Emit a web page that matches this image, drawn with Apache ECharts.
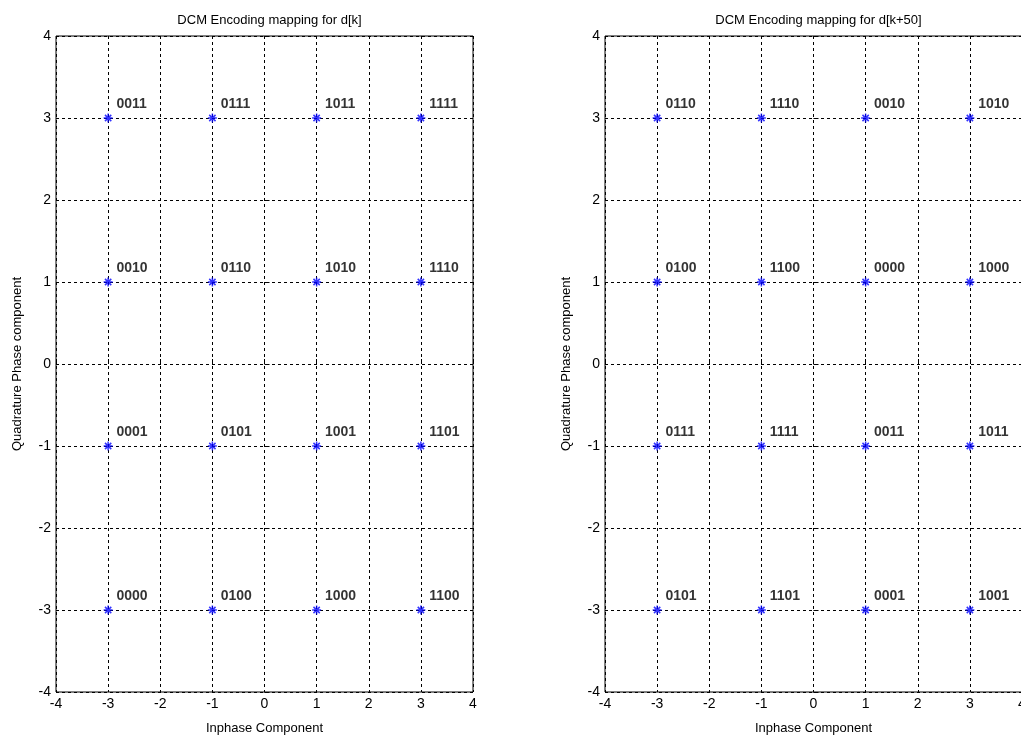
<!DOCTYPE html>
<html>
<head>
<meta charset="utf-8">
<script src="https://cdn.jsdelivr.net/npm/echarts@6/dist/echarts.min.js"></script>
<style>
  html, body { margin: 0; padding: 0; background: #fff; }
  #main { width: 1021px; height: 738px; }
</style>
</head>
<body>
<div id="main"></div>
<script>
// symbol positions (I / Q levels)
const levels = [-3, -1, 1, 3]
const ticks = [-4, -3, -2, -1, 0, 1, 2, 3, 4]
const titles = ['DCM Encoding mapping for d[k]', 'DCM Encoding mapping for d[k+50]']

// bit labels, rows from Q = 3 down to Q = -3, columns I = -3 .. 3
const codesLeft = [
  ['0011', '0111', '1011', '1111'],
  ['0010', '0110', '1010', '1110'],
  ['0001', '0101', '1001', '1101'],
  ['0000', '0100', '1000', '1100']
]
const codesRight = [
  ['0110', '1110', '0010', '1010'],
  ['0100', '1100', '0000', '1000'],
  ['0111', '1111', '0011', '1011'],
  ['0101', '1101', '0001', '1001']
]
const rowsQ = [3, 1, -1, -3]

function buildPoints(codes) {
  const pts = []
  for (let r = 0; r < rowsQ.length; r++) {
    for (let c = 0; c < levels.length; c++) {
      pts.push({ value: [levels[c], rowsQ[r]], code: codes[r][c] })
    }
  }
  return pts
}

const myChart = echarts.init(document.getElementById('main'))
const font = 'Liberation Sans, Arial, sans-serif'
const star = 'path://M0,-5L0,5M-5,0L5,0M-3.5,-3.5L3.5,3.5M-3.5,3.5L3.5,-3.5'

const grids = [
  { left: 56, width: 417, top: 36, height: 656 },
  { left: 605, width: 417, top: 36, height: 656 }
]

function axisCommon() {
  return {
    min: -4,
    max: 4,
    interval: 1,
    axisLine: { show: false },
    axisTick: { show: true, inside: true, length: 5, lineStyle: { color: '#000' } },
    axisLabel: { color: '#000', fontSize: 14, fontFamily: font, margin: 5 },
    splitLine: { show: true, lineStyle: { color: '#000', type: [3, 3], width: 1 } },
    nameTextStyle: { color: '#000', fontSize: 13, fontFamily: font }
  }
}

const option = {
  backgroundColor: '#fff',
  animation: false,
  title: titles.map((t, i) => ({
    text: t,
    left: grids[i].left + grids[i].width / 2,
    textAlign: 'center',
    top: 9,
    textStyle: { fontSize: 13, fontWeight: 'normal', color: '#000', fontFamily: font }
  })),
  grid: grids.map(g => Object.assign({ show: true, borderColor: '#000', borderWidth: 1, outerBoundsMode: 'none', containLabel: false }, g)),
  xAxis: grids.map((g, i) => Object.assign(axisCommon(), {
    type: 'value',
    gridIndex: i,
    name: 'Inphase Component',
    nameLocation: 'middle',
    nameGap: 30
  })),
  yAxis: grids.map((g, i) => Object.assign(axisCommon(), {
    type: 'value',
    gridIndex: i,
    name: 'Quadrature Phase component',
    nameLocation: 'middle',
    nameGap: 32
  })),
  series: [codesLeft, codesRight].map((codes, i) => ({
    type: 'scatter',
    xAxisIndex: i,
    yAxisIndex: i,
    symbol: star,
    symbolSize: 9,
    itemStyle: { color: 'rgba(0,0,0,0)', borderColor: '#0000ff', borderWidth: 1.5 },
    label: {
      show: true,
      position: 'right',
      offset: [-2, -14],
      formatter: p => p.data.code,
      color: '#000',
      fontWeight: 'bold',
      fontSize: 14,
      fontFamily: font
    },
    data: buildPoints(codes)
  }))
}

myChart.setOption(option)
</script>
</body>
</html>
